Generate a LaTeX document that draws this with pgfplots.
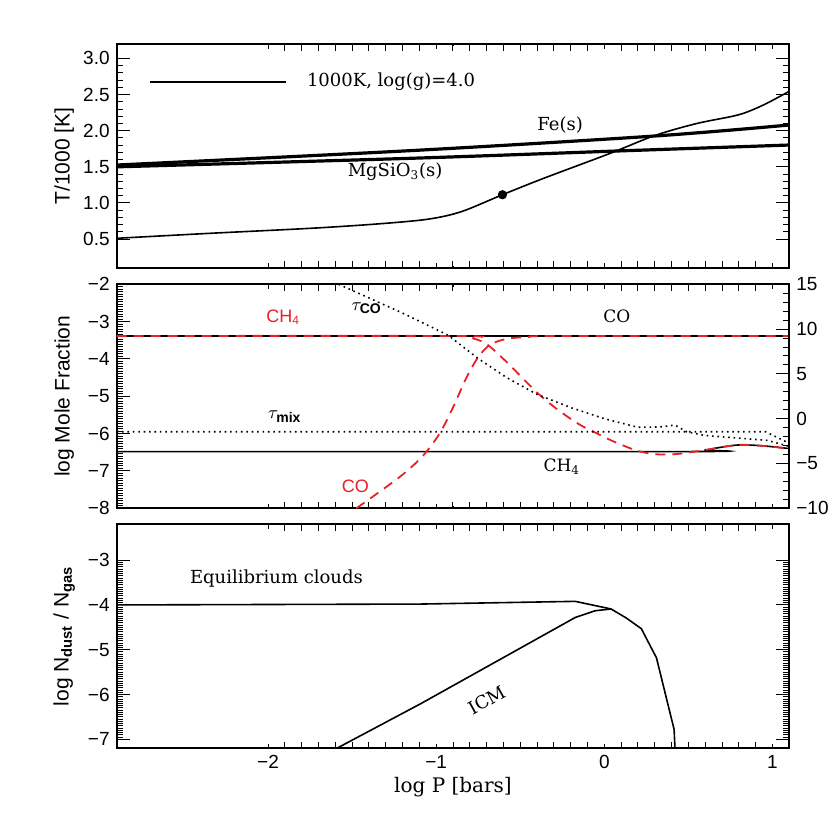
\documentclass[border=0pt]{standalone}
\usepackage{fontspec}
\setmainfont{DejaVu Serif}
\setsansfont{Liberation Sans}
\usepackage{pgfplots}
\pgfplotsset{compat=1.18}
\definecolor{idlred}{RGB}{232,32,40}

\pgfplotsset{
  panel/.style={
    scale only axis, width=336.3pt, height=112pt,
    xmin=-2.9, xmax=1.1,
    xtick={-2,-1,0,1}, minor x tick num=9,
    tick align=inside,
    tick style={black, line width=0.5pt},
    axis line style={line width=1pt},
    ticklabel style={font=\sffamily\fontsize{9.5}{10}\selectfont},
    every axis y label/.style={at={(axis description cs:-0.078,0.5)},rotate=90,anchor=center,
      font=\sffamily\fontsize{10.5}{11}\selectfont},
    every axis x label/.style={at={(axis description cs:0.5,-0.174)},anchor=center,
      font=\fontsize{10}{11}\selectfont},
  },
  % main axis of a panel: long y ticks, no x tick marks
  ypanel/.style={panel, major tick length=6.5pt, minor tick length=3.3pt,
    xmajorticks=false, xminorticks=false, xticklabels={}},
  % overlay of a panel: short x ticks only
  xpanel/.style={panel, major tick length=2.4pt, minor tick length=1.2pt,
    ytick=\empty, xticklabels={}},
  thinline/.style={black, line width=0.8pt},
  reddash/.style={idlred, line width=0.9pt, dash pattern=on 5pt off 3.5pt},
  dotline/.style={black, line width=0.8pt, dash pattern=on 0.8pt off 1.9pt},
}

\begin{document}
\begin{tikzpicture}
\useasboundingbox (-58.35pt,22pt) rectangle (356.65pt,-393pt);

% ---- top panel: temperature profile
\begin{axis}[xpanel, at={(0pt,0pt)}, anchor=north west, ymin=0.1, ymax=3.2]
\end{axis}
\begin{axis}[ypanel, at={(0pt,0pt)}, anchor=north west,
  ymin=0.1, ymax=3.2,
  ytick={0.5,1,1.5,2,2.5,3}, yticklabels={0.5,1.0,1.5,2.0,2.5,3.0},
  minor y tick num=4,
  ylabel={T/1000 [K]}]
\addplot[black, line width=1.6pt, smooth] coordinates {
  (-2.9,1.525) (-1.154,1.724) (0.302,1.927) (1.1,2.079)};
\addplot[black, line width=1.6pt, smooth] coordinates {
  (-2.9,1.50) (-1.154,1.618) (0.074,1.719) (1.1,1.802)};
\addplot[thinline, smooth] coordinates {
  (-2.9,0.511) (-2.345,0.58) (-1.75,0.649) (-1.353,0.709) (-1.05,0.775)
  (-0.85,0.88) (-0.606,1.114) (-0.362,1.34) (0.035,1.687) (0.302,1.935)
  (0.55,2.10) (0.798,2.22) (0.946,2.356) (1.1,2.546)};
\addplot[only marks, mark=*, mark size=2.1pt, black] coordinates {(-0.606,1.114)};
\addplot[thinline] coordinates {(-2.702,2.678) (-1.895,2.678)};
\node[anchor=west, font=\fontsize{9}{10}\selectfont] at (axis cs:-1.81,2.678) {1000K, log(g)=4.0};
\node[font=\fontsize{9}{10}\selectfont] at (axis cs:-0.263,2.079) {Fe(s)};
\node[font=\fontsize{9}{10}\selectfont] at (axis cs:-1.244,1.433) {MgSiO\textsubscript{3}(s)};
\end{axis}

% ---- middle panel: mole fractions
\begin{axis}[xpanel, at={(0pt,-120.15pt)}, anchor=north west, ymin=-8, ymax=-2]
\end{axis}
\begin{axis}[ypanel, at={(0pt,-120.15pt)}, anchor=north west,
  ymin=-8, ymax=-2,
  ytick={-8,-7,-6,-5,-4,-3,-2}, yticklabels={−8,−7,−6,−5,−4,−3,−2},
  minor y tick num=14, ytick pos=left,
  ylabel={log Mole Fraction}]
\addplot[thinline] coordinates {(-2.9,-3.385) (1.1,-3.385)};
\addplot[thinline, smooth] coordinates {
  (-2.9,-6.48) (0.51,-6.48) (0.6,-6.44) (0.7,-6.36) (0.81,-6.30) (0.95,-6.33) (1.1,-6.40)};
% CH4 (non-equilibrium)
\addplot[reddash, smooth] coordinates {
  (-2.9,-3.385) (-0.88,-3.385) (-0.78,-3.45) (-0.70,-3.6) (-0.6,-4.0) (-0.5,-4.45)
  (-0.4,-4.9) (-0.28,-5.35) (-0.15,-5.75) (-0.05,-5.98) (0.05,-6.2) (0.19,-6.45)
  (0.3,-6.55) (0.42,-6.55) (0.51,-6.50) (0.6,-6.44) (0.7,-6.36) (0.81,-6.30)
  (0.95,-6.33) (1.1,-6.40)};
% CO (non-equilibrium)
\addplot[reddash, smooth] coordinates {
  (-1.475,-8.0) (-1.35,-7.6) (-1.2,-7.1) (-1.08,-6.6) (-0.98,-6.0) (-0.9,-5.3)
  (-0.82,-4.5) (-0.75,-3.95) (-0.68,-3.62) (-0.58,-3.46) (-0.45,-3.41) (-0.3,-3.385)
  (1.1,-3.385)};
\node[text=idlred, font=\sffamily\fontsize{9}{10}\selectfont] at (axis cs:-1.909,-2.89) {CH\textsubscript{4}};
\node[font=\fontsize{9}{10}\selectfont] at (axis cs:-1.413,-2.64) {$\tau_{\mbox{\sffamily\bfseries\scriptsize CO}}$};
\node[font=\fontsize{8.5}{10}\selectfont] at (axis cs:0.075,-2.87) {CO};
\node[font=\fontsize{9}{10}\selectfont] at (axis cs:-1.9,-5.55) {$\tau_{\mbox{\sffamily\bfseries\scriptsize mix}}$};
\node[font=\fontsize{8.5}{10}\selectfont] at (axis cs:-0.253,-6.89) {CH\textsubscript{4}};
\node[text=idlred, font=\sffamily\fontsize{9}{10}\selectfont] at (axis cs:-1.48,-7.42) {CO};
\end{axis}

% ---- middle panel: optical depth scale on the right
\begin{axis}[panel, at={(0pt,-120.15pt)}, anchor=north west,
  major tick length=6.5pt, minor tick length=3.3pt,
  axis x line=none, axis y line*=right, tick align=inside,
  ymin=-10, ymax=15,
  ytick={-10,-5,0,5,10,15}, yticklabels={−10,−5,0,5,10,15},
  minor y tick num=4]
\addplot[dotline] coordinates {
  (-1.58,15.0) (-1.2,11.79) (-0.93,9.33) (-0.75,6.71) (-0.58,4.58) (-0.40,2.71)
  (-0.2,1.25) (0.0,0.0) (0.2,-0.96) (0.33,-0.92) (0.42,-0.71) (0.49,-1.46)
  (0.6,-1.875) (0.8,-2.17) (0.97,-2.42) (1.1,-3.1)};
\addplot[dotline] coordinates {(-2.9,-1.46) (0.96,-1.46) (1.1,-2.75)};
\end{axis}

% ---- bottom panel: dust abundance
\begin{axis}[xpanel, at={(0pt,-240.15pt)}, anchor=north west, ymin=-7.2, ymax=-2.2,
  xticklabels={−2,−1,0,1},
  xlabel={log P [bars]}]
\end{axis}
\begin{axis}[ypanel, at={(0pt,-240.15pt)}, anchor=north west,
  ymin=-7.2, ymax=-2.2,
  ytick={-7,-6,-5,-4,-3}, yticklabels={−7,−6,−5,−4,−3},
  minor y tick num=19,
  ylabel={log N\textsubscript{\bfseries dust} / N\textsubscript{\bfseries gas}}]
\addplot[thinline] coordinates {
  (-2.9,-4.0) (-1.088,-3.98) (-0.173,-3.92) (0.04,-4.09) (0.13,-4.29) (0.22,-4.53)
  (0.31,-5.18) (0.415,-6.78) (0.42,-7.2)};
\addplot[thinline] coordinates {
  (-1.591,-7.2) (-1.09,-6.2) (-0.173,-4.28) (-0.055,-4.13) (0.04,-4.09)};
\node[font=\fontsize{9}{10}\selectfont, rotate=29] at (axis cs:-0.70,-6.12) {ICM};
\node[font=\fontsize{9}{10}\selectfont] at (axis cs:-1.95,-3.4) {Equilibrium clouds};
\end{axis}
\end{tikzpicture}
\end{document}
